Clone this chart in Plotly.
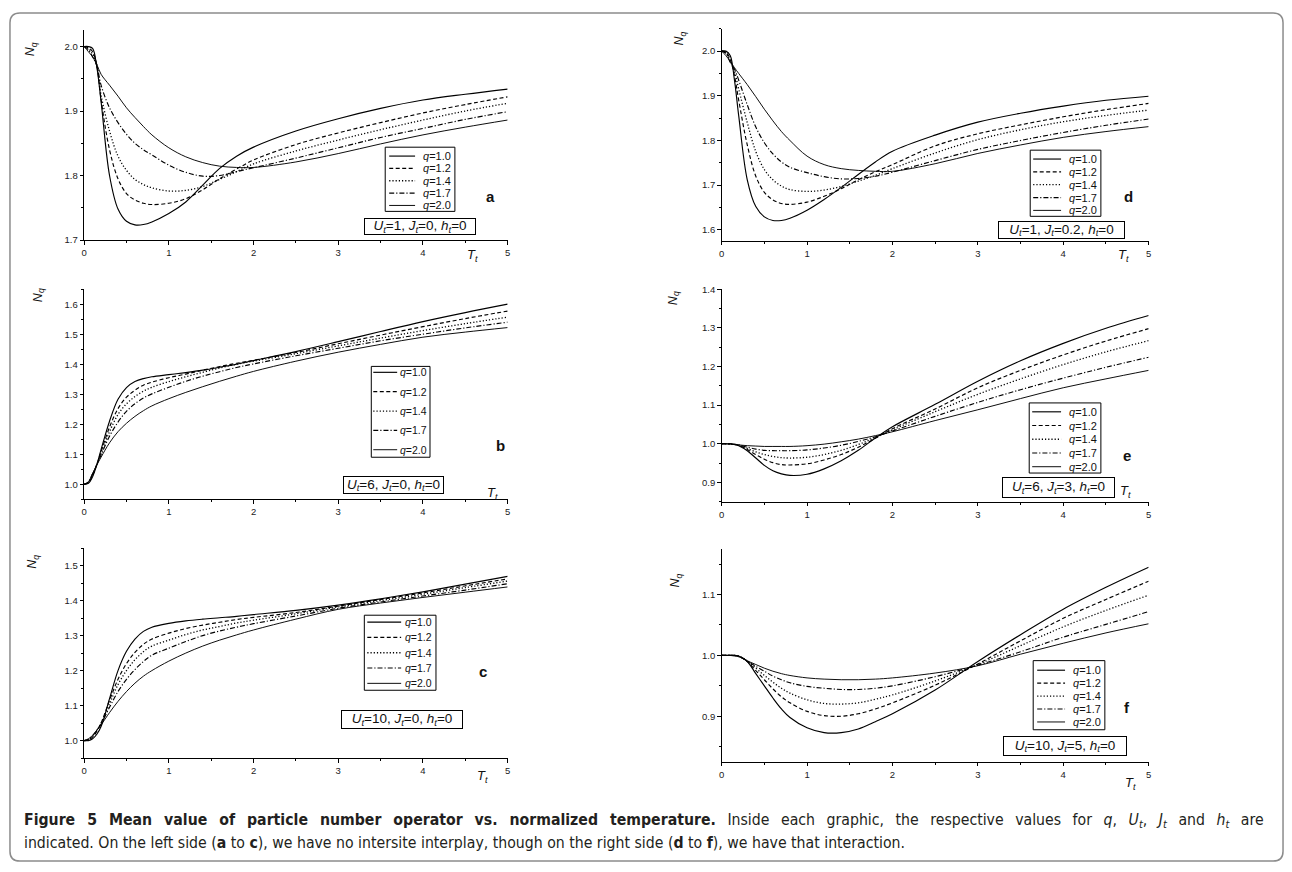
import plotly.graph_objects as go

W, H = 1292, 872

# ---------------- data ----------------
T = [0, 0.05, 0.1, 0.15, 0.2, 0.3, 0.4, 0.5, 0.6, 0.7, 0.8, 1.0, 1.2, 1.4, 1.6, 1.8, 2.0, 2.5, 3.0, 3.5, 4.0, 4.5, 5.0]
q_values = [1.0, 1.2, 1.4, 1.7, 2.0]
panel_letters = ["a", "b", "c", "d", "e", "f"]
U_t = ["1", "6", "10", "1", "6", "10"]
J_t = ["0", "0", "0", "0.2", "3", "5"]
h_t = ["0", "0", "0", "0", "0", "0"]
x_ticks = [0, 1, 2, 3, 4, 5]

# panel a : U=1, J=0
a_q10 = [2.0, 2.0, 1.997, 1.968, 1.915, 1.80, 1.748, 1.729, 1.7235, 1.724, 1.728, 1.741, 1.759, 1.785, 1.811, 1.83, 1.844, 1.869, 1.888, 1.904, 1.917, 1.926, 1.934]
a_q12 = [2.0, 1.998, 1.992, 1.97, 1.918, 1.84, 1.795, 1.772, 1.762, 1.757, 1.755, 1.757, 1.764, 1.778, 1.795, 1.81, 1.824, 1.848, 1.866, 1.882, 1.897, 1.91, 1.922]
a_q14 = [2.0, 1.997, 1.988, 1.972, 1.925, 1.869, 1.83, 1.808, 1.794, 1.786, 1.781, 1.776, 1.777, 1.783, 1.794, 1.806, 1.818, 1.838, 1.855, 1.871, 1.886, 1.90, 1.912]
a_q17 = [2.0, 1.995, 1.984, 1.97, 1.94, 1.905, 1.882, 1.864, 1.85, 1.84, 1.832, 1.816, 1.805, 1.799, 1.80, 1.806, 1.812, 1.827, 1.843, 1.859, 1.873, 1.887, 1.899]
a_q20 = [2.0, 1.992, 1.984, 1.972, 1.957, 1.94, 1.923, 1.905, 1.89, 1.876, 1.863, 1.843, 1.829, 1.82, 1.8145, 1.8125, 1.8125, 1.821, 1.834, 1.849, 1.863, 1.875, 1.886]

# panel b : U=6, J=0
b_q10 = [1.0, 1.003, 1.025, 1.065, 1.115, 1.21, 1.283, 1.322, 1.342, 1.352, 1.358, 1.365, 1.372, 1.38, 1.39, 1.40, 1.412, 1.442, 1.475, 1.509, 1.542, 1.572, 1.60]
b_q12 = [1.0, 1.005, 1.03, 1.065, 1.108, 1.19, 1.252, 1.29, 1.313, 1.33, 1.34, 1.355, 1.367, 1.38, 1.392, 1.403, 1.413, 1.439, 1.468, 1.497, 1.525, 1.552, 1.577]
b_q14 = [1.0, 1.006, 1.032, 1.065, 1.102, 1.175, 1.232, 1.268, 1.292, 1.31, 1.323, 1.342, 1.358, 1.373, 1.387, 1.40, 1.41, 1.435, 1.461, 1.487, 1.512, 1.535, 1.557]
b_q17 = [1.0, 1.007, 1.034, 1.065, 1.097, 1.16, 1.207, 1.243, 1.268, 1.287, 1.301, 1.323, 1.343, 1.36, 1.375, 1.389, 1.401, 1.428, 1.453, 1.478, 1.50, 1.521, 1.54]
b_q20 = [1.0, 1.008, 1.036, 1.064, 1.09, 1.138, 1.175, 1.203, 1.226, 1.245, 1.261, 1.285, 1.306, 1.325, 1.343, 1.36, 1.376, 1.41, 1.44, 1.466, 1.49, 1.507, 1.522]

# panel c : U=10, J=0
c_q10 = [1.0, 1.0, 1.005, 1.018, 1.04, 1.12, 1.20, 1.255, 1.29, 1.312, 1.324, 1.335, 1.342, 1.347, 1.351, 1.355, 1.36, 1.372, 1.387, 1.405, 1.425, 1.447, 1.469]
c_q12 = [1.0, 1.002, 1.01, 1.027, 1.05, 1.115, 1.175, 1.22, 1.252, 1.275, 1.29, 1.307, 1.32, 1.33, 1.338, 1.346, 1.352, 1.366, 1.384, 1.403, 1.422, 1.442, 1.462]
c_q14 = [1.0, 1.003, 1.012, 1.029, 1.05, 1.105, 1.16, 1.20, 1.231, 1.254, 1.27, 1.287, 1.303, 1.316, 1.326, 1.336, 1.344, 1.362, 1.382, 1.40, 1.418, 1.437, 1.456]
c_q17 = [1.0, 1.004, 1.014, 1.03, 1.047, 1.095, 1.14, 1.175, 1.203, 1.226, 1.244, 1.264, 1.283, 1.30, 1.313, 1.324, 1.334, 1.356, 1.378, 1.396, 1.413, 1.43, 1.448]
c_q20 = [1.0, 1.005, 1.015, 1.03, 1.045, 1.08, 1.112, 1.14, 1.164, 1.184, 1.20, 1.227, 1.25, 1.27, 1.287, 1.302, 1.316, 1.347, 1.375, 1.393, 1.409, 1.424, 1.439]

# panel d : U=1, J=0.2
d_q10 = [2.0, 2.0, 1.99, 1.935, 1.855, 1.712, 1.652, 1.629, 1.621, 1.621, 1.626, 1.644, 1.668, 1.695, 1.724, 1.752, 1.776, 1.812, 1.841, 1.861, 1.877, 1.89, 1.899]
d_q12 = [2.0, 1.998, 1.982, 1.945, 1.89, 1.79, 1.72, 1.684, 1.667, 1.659, 1.657, 1.662, 1.675, 1.692, 1.712, 1.73, 1.746, 1.788, 1.815, 1.835, 1.853, 1.869, 1.883]
d_q14 = [2.0, 1.997, 1.978, 1.955, 1.915, 1.84, 1.775, 1.735, 1.712, 1.698, 1.69, 1.686, 1.689, 1.697, 1.709, 1.722, 1.737, 1.772, 1.802, 1.824, 1.842, 1.856, 1.868]
d_q17 = [2.0, 1.995, 1.975, 1.96, 1.935, 1.88, 1.83, 1.795, 1.77, 1.752, 1.74, 1.728, 1.719, 1.714, 1.715, 1.72, 1.729, 1.755, 1.78, 1.80, 1.818, 1.834, 1.848]
d_q20 = [2.0, 1.99, 1.977, 1.963, 1.95, 1.925, 1.898, 1.87, 1.844, 1.82, 1.80, 1.765, 1.746, 1.737, 1.733, 1.731, 1.731, 1.748, 1.771, 1.79, 1.807, 1.82, 1.831]

# panel e : U=6, J=3
e_q10 = [1.0, 1.0, 1.0, 0.999, 0.995, 0.982, 0.963, 0.944, 0.93, 0.922, 0.918, 0.921, 0.935, 0.956, 0.983, 1.015, 1.044, 1.102, 1.162, 1.215, 1.26, 1.299, 1.332]
e_q12 = [1.0, 1.0, 1.0, 0.998, 0.996, 0.985, 0.972, 0.96, 0.951, 0.946, 0.945, 0.948, 0.958, 0.972, 0.991, 1.014, 1.039, 1.09, 1.145, 1.19, 1.23, 1.266, 1.298]
e_q14 = [1.0, 1.0, 0.999, 0.998, 0.996, 0.988, 0.979, 0.972, 0.967, 0.964, 0.963, 0.965, 0.972, 0.983, 0.998, 1.016, 1.036, 1.083, 1.128, 1.168, 1.205, 1.238, 1.267]
e_q17 = [1.0, 1.0, 0.999, 0.998, 0.997, 0.991, 0.986, 0.983, 0.982, 0.982, 0.982, 0.984, 0.989, 0.996, 1.006, 1.018, 1.033, 1.071, 1.107, 1.14, 1.17, 1.198, 1.224]
e_q20 = [1.0, 0.9995, 0.999, 0.998, 0.997, 0.995, 0.994, 0.993, 0.993, 0.993, 0.993, 0.995, 0.999, 1.005, 1.012, 1.021, 1.031, 1.06, 1.088, 1.117, 1.145, 1.168, 1.19]

# panel f : U=10, J=5
f_q10 = [1.0, 1.0, 1.0, 1.0, 0.999, 0.99, 0.97, 0.95, 0.93, 0.912, 0.898, 0.881, 0.873, 0.873, 0.879, 0.891, 0.904, 0.943, 0.99, 1.034, 1.076, 1.112, 1.145]
f_q12 = [1.0, 1.0, 1.0, 1.0, 0.999, 0.99, 0.975, 0.96, 0.945, 0.932, 0.922, 0.908, 0.901, 0.90, 0.904, 0.912, 0.922, 0.951, 0.986, 1.024, 1.061, 1.092, 1.122]
f_q14 = [1.0, 1.0, 1.0, 1.0, 0.999, 0.991, 0.979, 0.967, 0.956, 0.946, 0.938, 0.927, 0.921, 0.92, 0.922, 0.928, 0.935, 0.958, 0.985, 1.016, 1.047, 1.074, 1.099]
f_q17 = [1.0, 1.0, 1.0, 1.0, 0.998, 0.991, 0.982, 0.974, 0.966, 0.96, 0.955, 0.949, 0.946, 0.944, 0.944, 0.946, 0.95, 0.965, 0.984, 1.006, 1.03, 1.051, 1.072]
f_q20 = [1.0, 1.0, 1.0, 0.999, 0.998, 0.991, 0.985, 0.979, 0.974, 0.97, 0.967, 0.963, 0.961, 0.96, 0.96, 0.961, 0.963, 0.971, 0.983, 1.002, 1.02, 1.037, 1.052]

series = {
    "a": [a_q10, a_q12, a_q14, a_q17, a_q20],
    "b": [b_q10, b_q12, b_q14, b_q17, b_q20],
    "c": [c_q10, c_q12, c_q14, c_q17, c_q20],
    "d": [d_q10, d_q12, d_q14, d_q17, d_q20],
    "e": [e_q10, e_q12, e_q14, e_q17, e_q20],
    "f": [f_q10, f_q12, f_q14, f_q17, f_q20],
}

# ---------------- styles / layout geometry (pixels) ----------------
dashes = ["solid", "4px,2.5px", "1.2px,2px", "5px,2px,1.2px,2px", "solid"]
widths = [1.15, 1.15, 1.3, 1.15, 0.95]

geom = {
    "a": dict(xpx=(81.5, 507), ypx=(24.7, 237.0), yr=(1.7, 2.025)),
    "b": dict(xpx=(81.5, 507), ypx=(286.8, 499.5), yr=(0.95, 1.65)),
    "c": dict(xpx=(81.5, 507), ypx=(549.0, 761.7), yr=(0.95, 1.55)),
    "d": dict(xpx=(722, 1151), ypx=(23.1, 238.0), yr=(1.575, 2.05)),
    "e": dict(xpx=(722, 1151), ypx=(286.9, 502.0), yr=(0.85, 1.4)),
    "f": dict(xpx=(722, 1151), ypx=(549.9, 765.5), yr=(0.825, 1.175)),
}
legend_geom = {
    "a": dict(box=(384, 143, 454, 208), y1=152, dy=12.5, lx=(388, 414), fs=11),
    "b": dict(box=(370, 365, 429, 457), y1=371, dy=19.6, lx=(372, 396), fs=10.5),
    "c": dict(box=(363, 617, 435, 693), y1=624, dy=15.5, lx=(366, 400), fs=10.5),
    "d": dict(box=(1032, 146, 1103, 213), y1=155, dy=13.0, lx=(1035, 1063), fs=11),
    "e": dict(box=(1031, 402, 1103, 473), y1=411, dy=13.9, lx=(1034, 1063), fs=11),
    "f": dict(box=(1035, 663, 1107, 733), y1=672.7, dy=13.1, lx=(1039, 1067), fs=11),
}
ubox = {
    "a": (363, 215, 475, 232), "b": (342, 476, 443, 494), "c": (340, 713, 462, 732),
    "d": (1000, 218, 1127, 236), "e": (1004, 477, 1117, 498), "f": (1005, 739, 1129, 759),
}
letter_pos = {"a": (490, 193), "b": (500, 445), "c": (482, 674), "d": (1131, 193), "e": (1129, 455), "f": (1129, 710)}
nq_pos = {"a": (29, 44), "b": (36, 293), "c": (30, 563), "d": (680, 33), "e": (674, 296), "f": (676, 582)}
tt_pos = {"a": (472, 253), "b": (492, 494), "c": (482, 780), "d": (1126, 253), "e": (1128, 492), "f": (1133, 787)}

FONT = "Liberation Sans, Arial, sans-serif"


def px(xp):
    return xp / W


def py(yp):
    return 1 - yp / H


fig = go.Figure()
layout = dict(
    width=W, height=H, margin=dict(l=0, r=0, t=0, b=0),
    paper_bgcolor="white", plot_bgcolor="white", showlegend=False,
    font=dict(family=FONT, color="#111"),
)
shapes = []
annotations = []

for i, key in enumerate(panel_letters):
    n = i + 1
    xa = "xaxis" if n == 1 else f"xaxis{n}"
    ya = "yaxis" if n == 1 else f"yaxis{n}"
    xr = "x" if n == 1 else f"x{n}"
    yr = "y" if n == 1 else f"y{n}"
    g = geom[key]
    axis_common = dict(
        showline=True, linecolor="black", linewidth=1, showgrid=False, zeroline=False,
        ticks="outside", ticklen=3.5, tickwidth=1, tickcolor="black",
        tickfont=dict(family=FONT, size=9.5, color="#222"),
    )
    layout[xa] = dict(
        domain=[px(g["xpx"][0]), px(g["xpx"][1])], range=[0, 5], anchor=yr,
        tickvals=x_ticks, ticktext=[str(t) for t in x_ticks],
        minor=dict(dtick=0.5, ticks="outside", ticklen=2, tickcolor="black"),
        **axis_common,
    )
    layout[ya] = dict(
        domain=[py(g["ypx"][1]), py(g["ypx"][0])], range=list(g["yr"]), anchor=xr,
        tick0=0, dtick=0.1, tickformat=".1f",
        minor=dict(dtick=0.05, ticks="outside", ticklen=2, tickcolor="black"),
        **axis_common,
    )
    for k, (q, ys) in enumerate(zip(q_values, series[key])):
        fig.add_trace(go.Scatter(
            x=T, y=ys, mode="lines", xaxis=xr, yaxis=yr,
            line=dict(color="black", width=widths[k], dash=dashes[k], shape="spline", smoothing=1.0),
            name=f"q={q:.1f}", hoverinfo="skip",
        ))

    # legend (box + line samples + labels built from q_values and line styles)
    lg = legend_geom[key]
    x0, y0, x1, y1 = lg["box"]
    shapes.append(dict(type="rect", xref="paper", yref="paper", x0=px(x0), x1=px(x1), y0=py(y1), y1=py(y0),
                       line=dict(color="black", width=1), fillcolor="white", layer="above"))
    for k, q in enumerate(q_values):
        yy = lg["y1"] + k * lg["dy"]
        shapes.append(dict(type="line", xref="paper", yref="paper", x0=px(lg["lx"][0]), x1=px(lg["lx"][1]),
                           y0=py(yy), y1=py(yy), line=dict(color="black", width=widths[k], dash=dashes[k]),
                           layer="above"))
        annotations.append(dict(xref="paper", yref="paper", x=px(x1 - 1.5), y=py(yy), xanchor="right",
                                yanchor="middle", showarrow=False, text=f"<i>q</i>={q:.1f}",
                                font=dict(family=FONT, size=lg["fs"], color="#111")))

    # parameter box
    bx0, by0, bx1, by1 = ubox[key]
    ptxt = (f"<i>U</i><sub><i>t</i></sub>={U_t[i]}, <i>J</i><sub><i>t</i></sub>={J_t[i]}, "
            f"<i>h</i><sub><i>t</i></sub>={h_t[i]}")
    annotations.append(dict(xref="paper", yref="paper", x=px((bx0 + bx1) / 2), y=py((by0 + by1) / 2),
                            xanchor="center", yanchor="middle", showarrow=False, text=ptxt,
                            width=bx1 - bx0 - 2, height=by1 - by0 - 2, borderpad=0,
                            bordercolor="black", borderwidth=1, bgcolor="white",
                            font=dict(family=FONT, size=13.5, color="#111")))
    # panel letter
    lx, ly = letter_pos[key]
    annotations.append(dict(xref="paper", yref="paper", x=px(lx), y=py(ly), xanchor="center", yanchor="middle",
                            showarrow=False, text=f"<b>{key}</b>", font=dict(family=FONT, size=15, color="#111")))
    # axis titles
    nx, ny = nq_pos[key]
    annotations.append(dict(xref="paper", yref="paper", x=px(nx), y=py(ny), xanchor="center", yanchor="middle",
                            showarrow=False, textangle=-90, text="<i>N</i><sub><i>q</i></sub>",
                            font=dict(family=FONT, size=12.5, color="#111")))
    tx, ty = tt_pos[key]
    annotations.append(dict(xref="paper", yref="paper", x=px(tx), y=py(ty), xanchor="center", yanchor="middle",
                            showarrow=False, text="<i>T</i><sub><i>t</i></sub>",
                            font=dict(family=FONT, size=13, color="#111")))

# outer rounded frame
fx0, fy0, fx1, fy1, r = 7, 7, 1286, 866, 10
path = (f"M {px(fx0 + r)} {py(fy0)} L {px(fx1 - r)} {py(fy0)} Q {px(fx1)} {py(fy0)} {px(fx1)} {py(fy0 + r)} "
        f"L {px(fx1)} {py(fy1 - r)} Q {px(fx1)} {py(fy1)} {px(fx1 - r)} {py(fy1)} "
        f"L {px(fx0 + r)} {py(fy1)} Q {px(fx0)} {py(fy1)} {px(fx0)} {py(fy1 - r)} "
        f"L {px(fx0)} {py(fy0 + r)} Q {px(fx0)} {py(fy0)} {px(fx0 + r)} {py(fy0)} Z")
shapes.append(dict(type="path", xref="paper", yref="paper", path=path, line=dict(color="#8c8c8c", width=1.5)))

# caption (first line justified to the full width by widening its word gaps)
CAP_FONT = "Liberation Sans Narrow, Arial Narrow, DejaVu Sans Condensed, sans-serif"
cap1 = ("<b>Figure 5 Mean value of particle number operator vs. normalized temperature.</b> "
        "Inside each graphic, the respective values for <i>q</i>, <i>U</i><sub><i>t</i></sub>, "
        "<i>J</i><sub><i>t</i></sub> and <i>h</i><sub><i>t</i></sub> are")
cap1 = cap1.replace(" ", " \u2002")
cap2 = ("indicated. On the left side (<b>a</b> to <b>c</b>), we have no intersite interplay, "
        "though on the right side (<b>d</b> to <b>f</b>), we have that interaction.")
annotations.append(dict(xref="paper", yref="paper", x=px(19), y=py(825), xanchor="left", yanchor="middle",
                        showarrow=False, text=cap1, font=dict(family=CAP_FONT, size=15.7, color="#231f20")))
annotations.append(dict(xref="paper", yref="paper", x=px(19), y=py(847), xanchor="left", yanchor="middle",
                        showarrow=False, text=cap2, font=dict(family=CAP_FONT, size=15.7, color="#231f20")))

layout["shapes"] = shapes
layout["annotations"] = annotations
fig.update_layout(**layout)
fig.write_html("out.html")
